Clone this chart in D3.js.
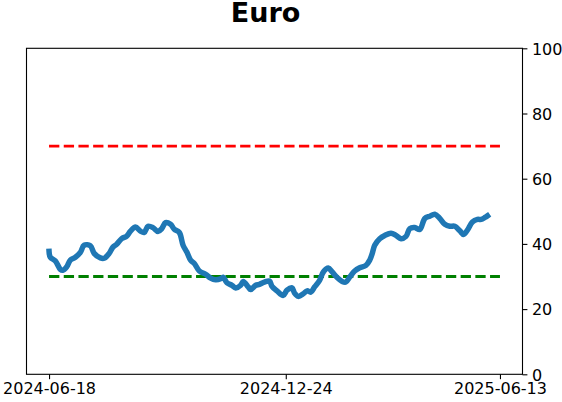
<!DOCTYPE html>
<html>
<head>
<meta charset="utf-8">
<script src="https://cdn.jsdelivr.net/npm/d3@7"></script>
<style>
  body { margin: 0; background: #fff; }
  text { font-family: "DejaVu Sans", sans-serif; }
</style>
</head>
<body>
<div id="my_dataviz"></div>
<script>
var title = "Euro";

var dates = ["2024-06-18","2024-06-19","2024-06-23","2024-06-27","2024-06-29","2024-07-02","2024-07-05","2024-07-09",
  "2024-07-13","2024-07-16","2024-07-21","2024-07-24","2024-07-29","2024-08-01","2024-08-05","2024-08-08",
  "2024-08-11","2024-08-15","2024-08-19","2024-08-22","2024-08-26","2024-08-30","2024-09-02","2024-09-05",
  "2024-09-09","2024-09-13","2024-09-16","2024-09-19","2024-09-23","2024-09-26","2024-09-30","2024-10-03",
  "2024-10-06","2024-10-09","2024-10-12","2024-10-16","2024-10-21","2024-10-25","2024-10-29","2024-11-02",
  "2024-11-04","2024-11-07","2024-11-11","2024-11-14","2024-11-18","2024-11-20","2024-11-24","2024-11-26",
  "2024-11-30","2024-12-03","2024-12-07","2024-12-11","2024-12-13","2024-12-17","2024-12-22","2024-12-25",
  "2024-12-29","2024-12-31","2025-01-03","2025-01-07","2025-01-10","2025-01-13","2025-01-16","2025-01-20",
  "2025-01-23","2025-01-27","2025-01-30","2025-02-03","2025-02-07","2025-02-10","2025-02-13","2025-02-17",
  "2025-02-21","2025-02-26","2025-03-01","2025-03-03","2025-03-05","2025-03-09","2025-03-13","2025-03-18",
  "2025-03-22","2025-03-26","2025-03-30","2025-04-02","2025-04-06","2025-04-10","2025-04-14","2025-04-18",
  "2025-04-22","2025-04-26","2025-04-30","2025-05-04","2025-05-08","2025-05-12","2025-05-15","2025-05-18",
  "2025-05-22","2025-05-26","2025-05-29","2025-06-01","2025-06-03"];

var values = [37.7,35.9,34.8,32.2,31.9,32.9,35.0,35.9,
  37.4,39.6,39.4,37.1,35.7,35.6,37.1,39.0,
  39.9,41.6,42.4,43.9,45.2,43.9,43.5,45.4,
  45.0,43.8,44.7,46.5,46.0,44.5,43.5,39.6,
  37.5,35.0,34.0,31.7,30.7,29.5,29.0,29.3,
  29.8,28.1,27.3,26.5,27.3,28.5,26.8,26.0,
  27.3,27.6,28.3,28.6,27.0,25.6,24.2,25.8,
  26.5,24.9,23.9,24.7,25.6,25.2,26.8,28.8,
  31.4,32.6,31.4,29.7,28.5,28.3,29.8,31.7,
  32.7,33.4,35.0,37.0,39.6,41.6,42.6,43.3,
  42.6,41.6,42.3,44.7,45.0,44.4,47.8,48.5,
  49.1,47.8,46.0,45.4,45.4,44.0,42.9,44.2,
  46.7,47.5,47.5,48.1,48.6];

var bandStart = "2024-06-18", bandEnd = "2025-06-13";
var upperLevel = 70, lowerLevel = 30;
var xTicks = ["2024-06-18", "2024-12-24", "2025-06-13"];
var yTicks = [0, 20, 40, 60, 80, 100];

var parse = d3.timeParse("%Y-%m-%d");
var fmt = d3.timeFormat("%Y-%m-%d");

var data = dates.map(function(d, i) { return {Date: parse(d), Value: values[i]} });

var margin = {top: 48.3, right: 39.5, bottom: 27.7, left: 26.5},
width = 562 - margin.left - margin.right,
height = 402 - margin.top - margin.bottom;

var svg = d3.select("#my_dataviz")
        .append("svg")
        .attr("width", 562)
        .attr("height", 402)
        .append("g")
        .attr("transform", "translate(" + margin.left + "," + margin.top + ")");

// 5% padding on each side like matplotlib
var t0 = parse(bandStart), t1 = parse(bandEnd);
var pad = (t1 - t0) * 0.05;
var x = d3.scaleTime()
    .domain([new Date(+t0 - pad), new Date(+t1 + pad)])
    .range([0, width]);

var y = d3.scaleLinear()
    .domain([0, 100])
    .range([height, 0]);

// frame
svg.append("rect")
    .attr("width", width)
    .attr("height", height)
    .attr("fill", "none")
    .attr("stroke", "#000")
    .attr("stroke-width", 1.1);

var xAxis = svg.append("g")
    .attr("transform", "translate(0," + height + ")")
    .call(d3.axisBottom(x)
        .tickValues(xTicks.map(parse))
        .tickFormat(fmt)
        .tickSize(4.9)
        .tickPadding(3));

var yAxis = svg.append("g")
    .attr("transform", "translate(" + width + ",0)")
    .call(d3.axisRight(y)
        .tickValues(yTicks)
        .tickSize(4.9)
        .tickPadding(4.5));

[xAxis, yAxis].forEach(function(a) {
    a.select(".domain").remove();
    a.selectAll("line").attr("stroke", "#000").attr("stroke-width", 1.1);
    a.selectAll("text")
        .attr("fill", "#000")
        .style("font-size", "16px")
        .style("font-family", "DejaVu Sans, sans-serif");
});
yAxis.selectAll("text").attr("dy", "0.36em");

// threshold lines
var levels = [{v: upperLevel, c: "#ff0000"}, {v: lowerLevel, c: "#008000"}];
svg.selectAll(".level")
    .data(levels)
    .enter()
    .append("line")
    .attr("class", "level")
    .attr("x1", x(t0))
    .attr("x2", x(t1))
    .attr("y1", function(d) { return y(d.v) })
    .attr("y2", function(d) { return y(d.v) })
    .attr("stroke", function(d) { return d.c })
    .attr("stroke-width", 2.8)
    .style("stroke-dasharray", "10.3,4.4");

svg.append("path")
    .datum(data)
    .attr("fill", "none")
    .attr("stroke", "#1f77b4")
    .attr("stroke-width", 5.5)
    .attr("stroke-linejoin", "round")
    .attr("stroke-linecap", "square")
    .attr("d", d3.line()
        .curve(d3.curveCatmullRom)
        .x(function(r) { return x(r.Date) })
        .y(function(r) { return y(r.Value) })
    );

d3.select("svg").append("text")
    .attr("x", 265.5)
    .attr("y", 22.3)
    .attr("text-anchor", "middle")
    .style("font-size", "27px")
    .style("font-weight", "bold")
    .text(title);
</script>
</body>
</html>
